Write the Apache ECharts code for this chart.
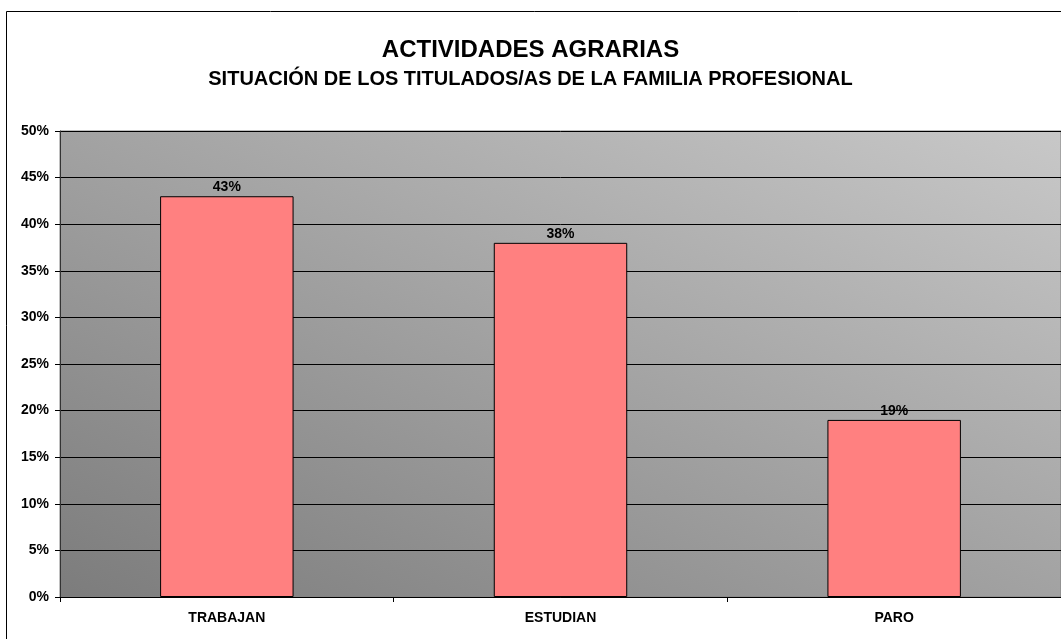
<!DOCTYPE html>
<html>
<head>
<meta charset="utf-8">
<script src="https://cdn.jsdelivr.net/npm/echarts@6/dist/echarts.min.js"></script>
<style>
  html, body { margin: 0; padding: 0; background: #fff; }
  #chart { width: 1061px; height: 639px; }
</style>
</head>
<body>
<div id="chart"></div>
<script>
// categorias y valores (%)
const categories = ['TRABAJAN', 'ESTUDIAN', 'PARO']
const values = [43, 38, 19]

const FONT = '"Liberation Sans", Arial, sans-serif'

const chart = echarts.init(document.getElementById('chart'))

chart.setOption({
  animation: false,
  title: [
    {
      text: 'ACTIVIDADES AGRARIAS',
      left: 'center', top: 33,
      textStyle: { fontFamily: FONT, fontSize: 24, fontWeight: 'bold', color: '#000' }
    },
    {
      text: 'SITUACIÓN DE LOS TITULADOS/AS DE LA FAMILIA PROFESIONAL',
      left: 'center', top: 64,
      textStyle: { fontFamily: FONT, fontSize: 20, fontWeight: 'bold', color: '#000' }
    }
  ],
  graphic: [
    {
      type: 'rect',
      shape: { x: 6.5, y: 11.5, width: 1100, height: 700 },
      style: { fill: 'none', stroke: '#000', lineWidth: 1 },
      z: 100
    }
  ],
  grid: {
    left: 60, right: -1, top: 131, bottom: 42,
    show: true,
    borderWidth: 1,
    borderColor: '#808080',
    // degradado diagonal: oscuro abajo-izquierda, claro arriba-derecha
    backgroundColor: {
      type: 'linear', global: true,
      x: 382, y: 748, x2: 740, y2: -20,
      colorStops: [
        { offset: 0, color: '#7c7c7c' },
        { offset: 1, color: '#c8c8c8' }
      ]
    }
  },
  xAxis: {
    type: 'category',
    data: categories,
    axisLine: { lineStyle: { color: '#000', width: 1 } },
    axisTick: { show: true, length: 5, lineStyle: { color: '#000' } },
    axisLabel: { fontFamily: FONT, fontSize: 14, fontWeight: 'bold', color: '#000', margin: 14 }
  },
  yAxis: {
    type: 'value',
    min: 0, max: 50, interval: 5,
    axisLine: { show: true, lineStyle: { color: '#333', width: 1 } },
    axisTick: { show: true, length: 5, lineStyle: { color: '#000' } },
    splitLine: { lineStyle: { color: '#000', width: 1 } },
    axisLabel: {
      fontFamily: FONT, fontSize: 14, fontWeight: 'bold', color: '#000', margin: 11,
      formatter: '{value}%'
    }
  },
  series: [
    {
      type: 'bar',
      data: values,
      barWidth: '40%',
      itemStyle: { color: '#ff8080', borderColor: '#000', borderWidth: 1 },
      label: {
        show: true, position: 'top', distance: 2,
        fontFamily: FONT, fontSize: 14, fontWeight: 'bold', color: '#000',
        formatter: '{c}%'
      }
    }
  ]
})
</script>
</body>
</html>
